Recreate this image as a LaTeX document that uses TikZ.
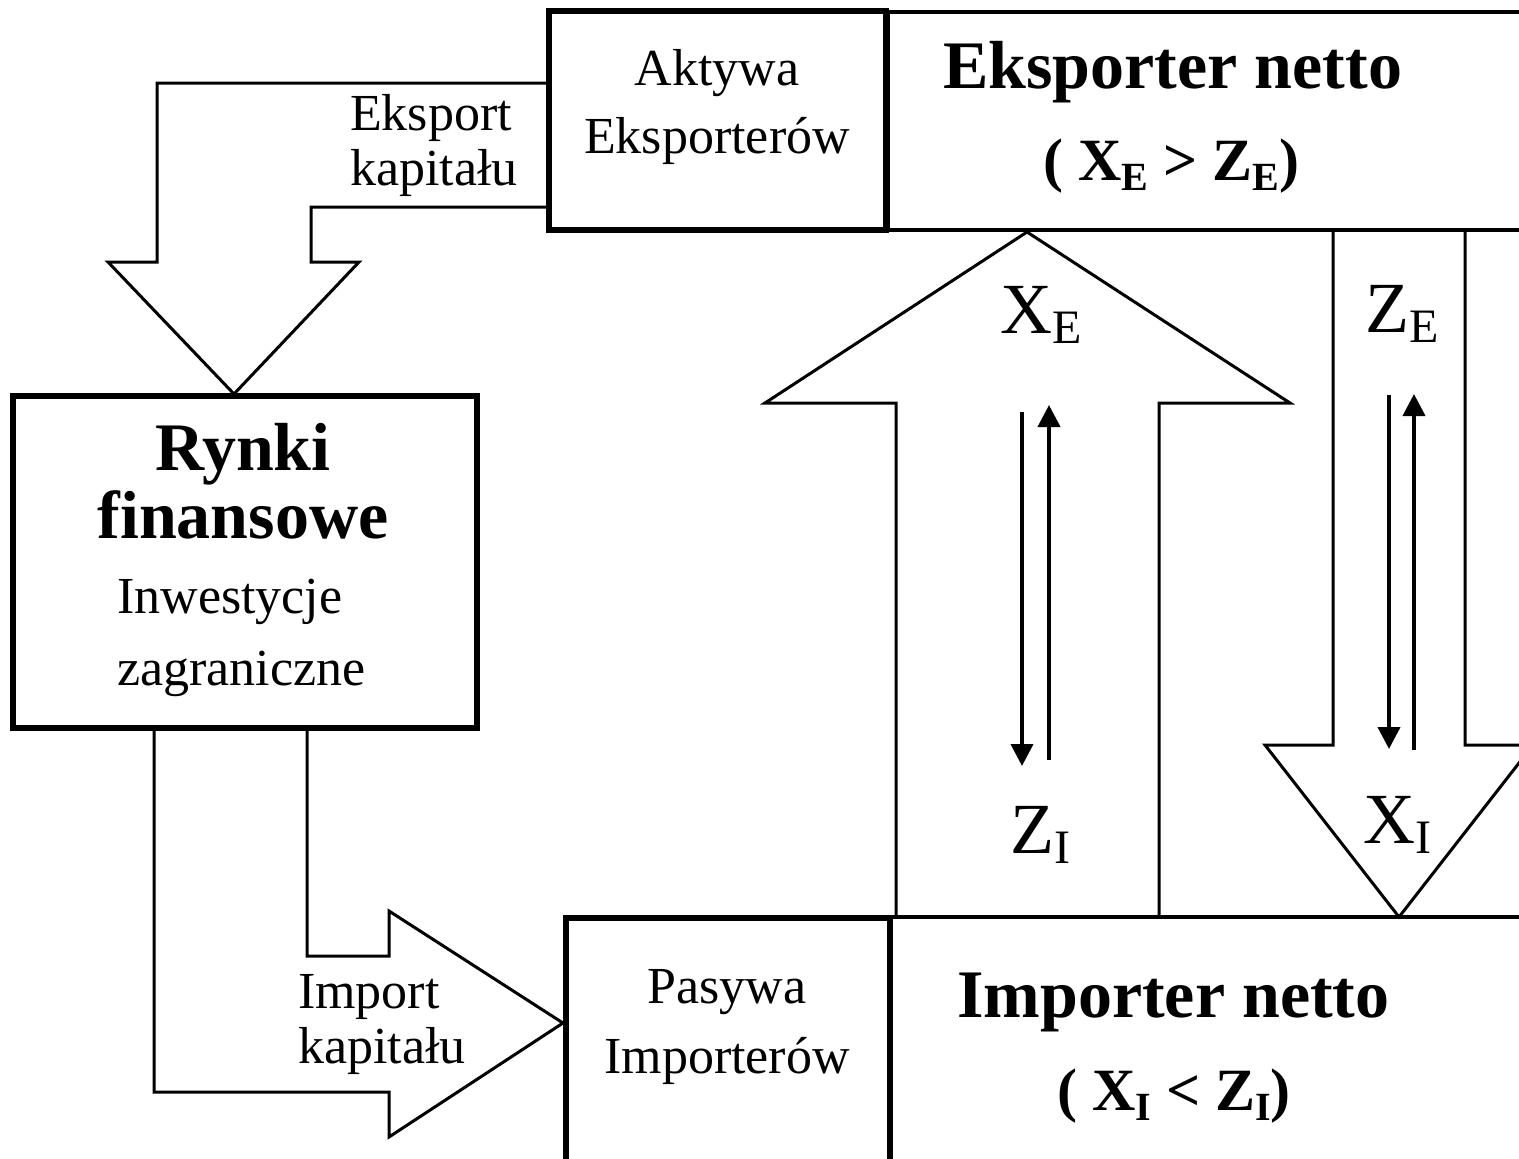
\documentclass[tikz,border=0pt]{standalone}
\usepackage{fontspec}
\setmainfont{Liberation Serif}
\usetikzlibrary{arrows.meta}
\newcommand\bsub[1]{\raisebox{-10pt}{\fontsize{48}{48}\selectfont #1}}
\newcommand\esub[1]{\raisebox{-10pt}{\fontsize{40}{40}\selectfont\bfseries #1}}
\begin{document}
\begin{tikzpicture}[x=1pt,y=-1pt,
  outl/.style={draw=black, line width=3pt, line join=miter},
  framebox/.style={draw=black, line width=3.5pt, inner sep=0pt, outer sep=0pt},
  thickbox/.style={draw=black, line width=6pt, fill=white, inner sep=0pt, outer sep=0pt},
  lbl/.style={inner sep=0pt, font=\fontsize{52}{52}\selectfont},
  ttl/.style={inner sep=0pt, font=\fontsize{68}{68}\selectfont\bfseries},
  eqn/.style={inner sep=0pt, font=\fontsize{60}{60}\selectfont\bfseries},
  big/.style={inner sep=0pt, font=\fontsize{72}{72}\selectfont},
  flow/.style={line width=4pt, -{Triangle[width=22pt,length=22pt]}}
]
\clip (0,0) rectangle (1519,1159);
\fill[white] (0,0) rectangle (1519,1159);

% wide frames running off the right edge
\node[framebox, minimum width=660pt, minimum height=218pt] (exp) at (1218,121) {};
\node[framebox, minimum width=660pt, minimum height=260pt] (imp) at (1220,1047) {};

% capital export block arrow
\draw[outl] (549,83) -- (157,83) -- (157,262) -- (108,262) -- (234,394)
  -- (359,262) -- (311,262) -- (311,207) -- (549,207);
% capital import block arrow
\draw[outl] (307,728) -- (307,956) -- (389,956) -- (389,911) -- (563,1023)
  -- (389,1137) -- (389,1092) -- (154,1092) -- (154,728);

% goods block arrows
\draw[outl,fill=white] (896,917) -- (896,403) -- (765,403) -- (1027,232) -- (1290,403)
  -- (1159,403) -- (1159,917);
\draw[outl,fill=white] (1333,230) -- (1333,745) -- (1265,745) -- (1399,917) -- (1533,745)
  -- (1465,745) -- (1465,230);
\draw[line width=3.5pt] (888,230) -- (1540,230);
\draw[line width=3.5pt] (890,917) -- (1540,917);

% boxes
\node[thickbox, minimum width=337pt, minimum height=219pt] (akt) at (717.5,120.5) {};
\node[thickbox, minimum width=464pt, minimum height=332pt] (rynki) at (245,562) {};
\node[thickbox, minimum width=324pt, minimum height=260pt] (pas) at (728,1048) {};

% small flow arrows
\coordinate (a1s) at (1022,412); \coordinate (a1e) at (1022,766);
\coordinate (a2s) at (1049,760); \coordinate (a2e) at (1049,405);
\coordinate (b1s) at (1389,395); \coordinate (b1e) at (1389,749);
\coordinate (b2s) at (1414,750); \coordinate (b2e) at (1414,394);
\draw[flow] (a1s) -- (a1e);
\draw[flow] (a2s) -- (a2e);
\draw[flow] (b1s) -- (b1e);
\draw[flow] (b2s) -- (b2e);

% texts
\node[lbl, anchor=base] (t1) at (717,85) {Aktywa};
\node[lbl, anchor=base] (t2) at (717,153) {Eksporterów};
\node[lbl, anchor=base west] (t3) at (350,130) {Eksport};
\node[lbl, anchor=base west] (t4) at (350,185) {kapitału};
\node[ttl, anchor=base west] (t5) at (943,88) {Eksporter netto};
\node[eqn, anchor=base west] (t6) at (1043,180) {( X\esub{E} > Z\esub{E})};
\node[big, anchor=base west] (t7) at (1000,333) {X\bsub{E}};
\node[big, anchor=base west] (t8) at (1365,332) {Z\bsub{E}};
\node[ttl, anchor=base] (t9) at (243,470) {Rynki};
\node[ttl, anchor=base] (t10) at (243,538) {finansowe};
\node[lbl, anchor=base west] (t11) at (117,613) {Inwestycje};
\node[lbl, anchor=base west] (t12) at (117,685) {zagraniczne};
\node[big, anchor=base west] (t13) at (1010,853) {Z\bsub{I}};
\node[big, anchor=base west] (t14) at (1363,843) {X\bsub{I}};
\node[lbl, anchor=base west] (t15) at (298,1008) {Import};
\node[lbl, anchor=base west] (t16) at (298,1063) {kapitału};
\node[lbl, anchor=base] (t17) at (727,1003) {Pasywa};
\node[lbl, anchor=base] (t18) at (727,1073) {Importerów};
\node[ttl, anchor=base west] (t19) at (957,1017) {Importer netto};
\node[eqn, anchor=base west] (t20) at (1057,1110) {( X\esub{I} < Z\esub{I})};
\end{tikzpicture}
\end{document}
